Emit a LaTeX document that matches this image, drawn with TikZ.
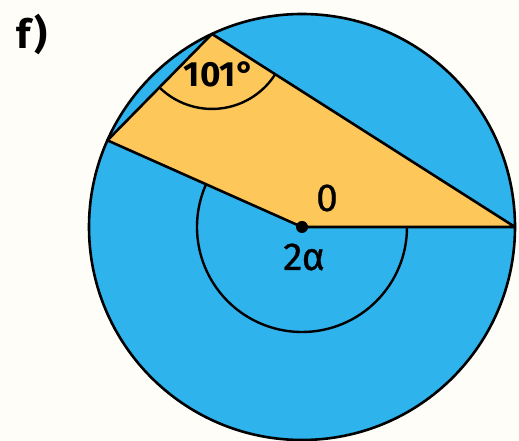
\documentclass[tikz,border=0pt]{standalone}
\usepackage{fontspec}
\setmainfont{Fira Sans}
\newfontfamily\labfont{Fira Sans}[FakeBold=0.6]
\newfontfamily\boldlabfont{Fira Sans}
\definecolor{bgc}{RGB}{255,253,248}
\definecolor{bluec}{RGB}{46,179,236}
\definecolor{yellowc}{RGB}{253,199,90}
\tikzset{
  outline/.style={draw=black, line width=2.6pt, line join=round},
  marcarc/.style={draw=black, line width=2.4pt},
  lab/.style={inner sep=0pt, font=\labfont\fontsize{39}{44}\selectfont},
}
\begin{document}
\begin{tikzpicture}[x=1pt,y=1pt]
\fill[bgc] (0,0) rectangle (519,441);
\useasboundingbox (0,0) rectangle (519,441);
\coordinate (C) at (302,214);
\coordinate (T) at ([shift={(115:213)}]C);
\coordinate (L) at ([shift={(156:213)}]C);
\coordinate (R) at ([shift={(0:213)}]C);
% circle
\fill[bluec] (C) circle (213);
% yellow region
\fill[yellowc] (C) -- (L) -- (T) -- (R) -- cycle;
\draw[outline] (R) -- (C) -- (L) -- (T) -- cycle;
\draw[outline] (C) circle (213);
% central angle arc
\draw[marcarc] ([shift={(0:105)}]C) arc[start angle=0, end angle=-204, radius=105];
% inscribed angle arc
\draw[marcarc] ([shift={(225.5:75)}]T) arc[start angle=225.5, end angle=327.5, radius=75];
% center dot
\fill[black] (C) circle (6);
% labels
\node[lab, font=\boldlabfont\bfseries\fontsize{40}{44}\selectfont] (f) at (32,406) {f)};
\node[lab, font=\boldlabfont\fontseries{sb}\bfseries\fontsize{35}{40}\selectfont] (ang) at (219,367) {101°};
\node[lab] (o) at (327,243) {0};
\node[lab] (a) at (304,184) {2α};
\end{tikzpicture}
\end{document}
